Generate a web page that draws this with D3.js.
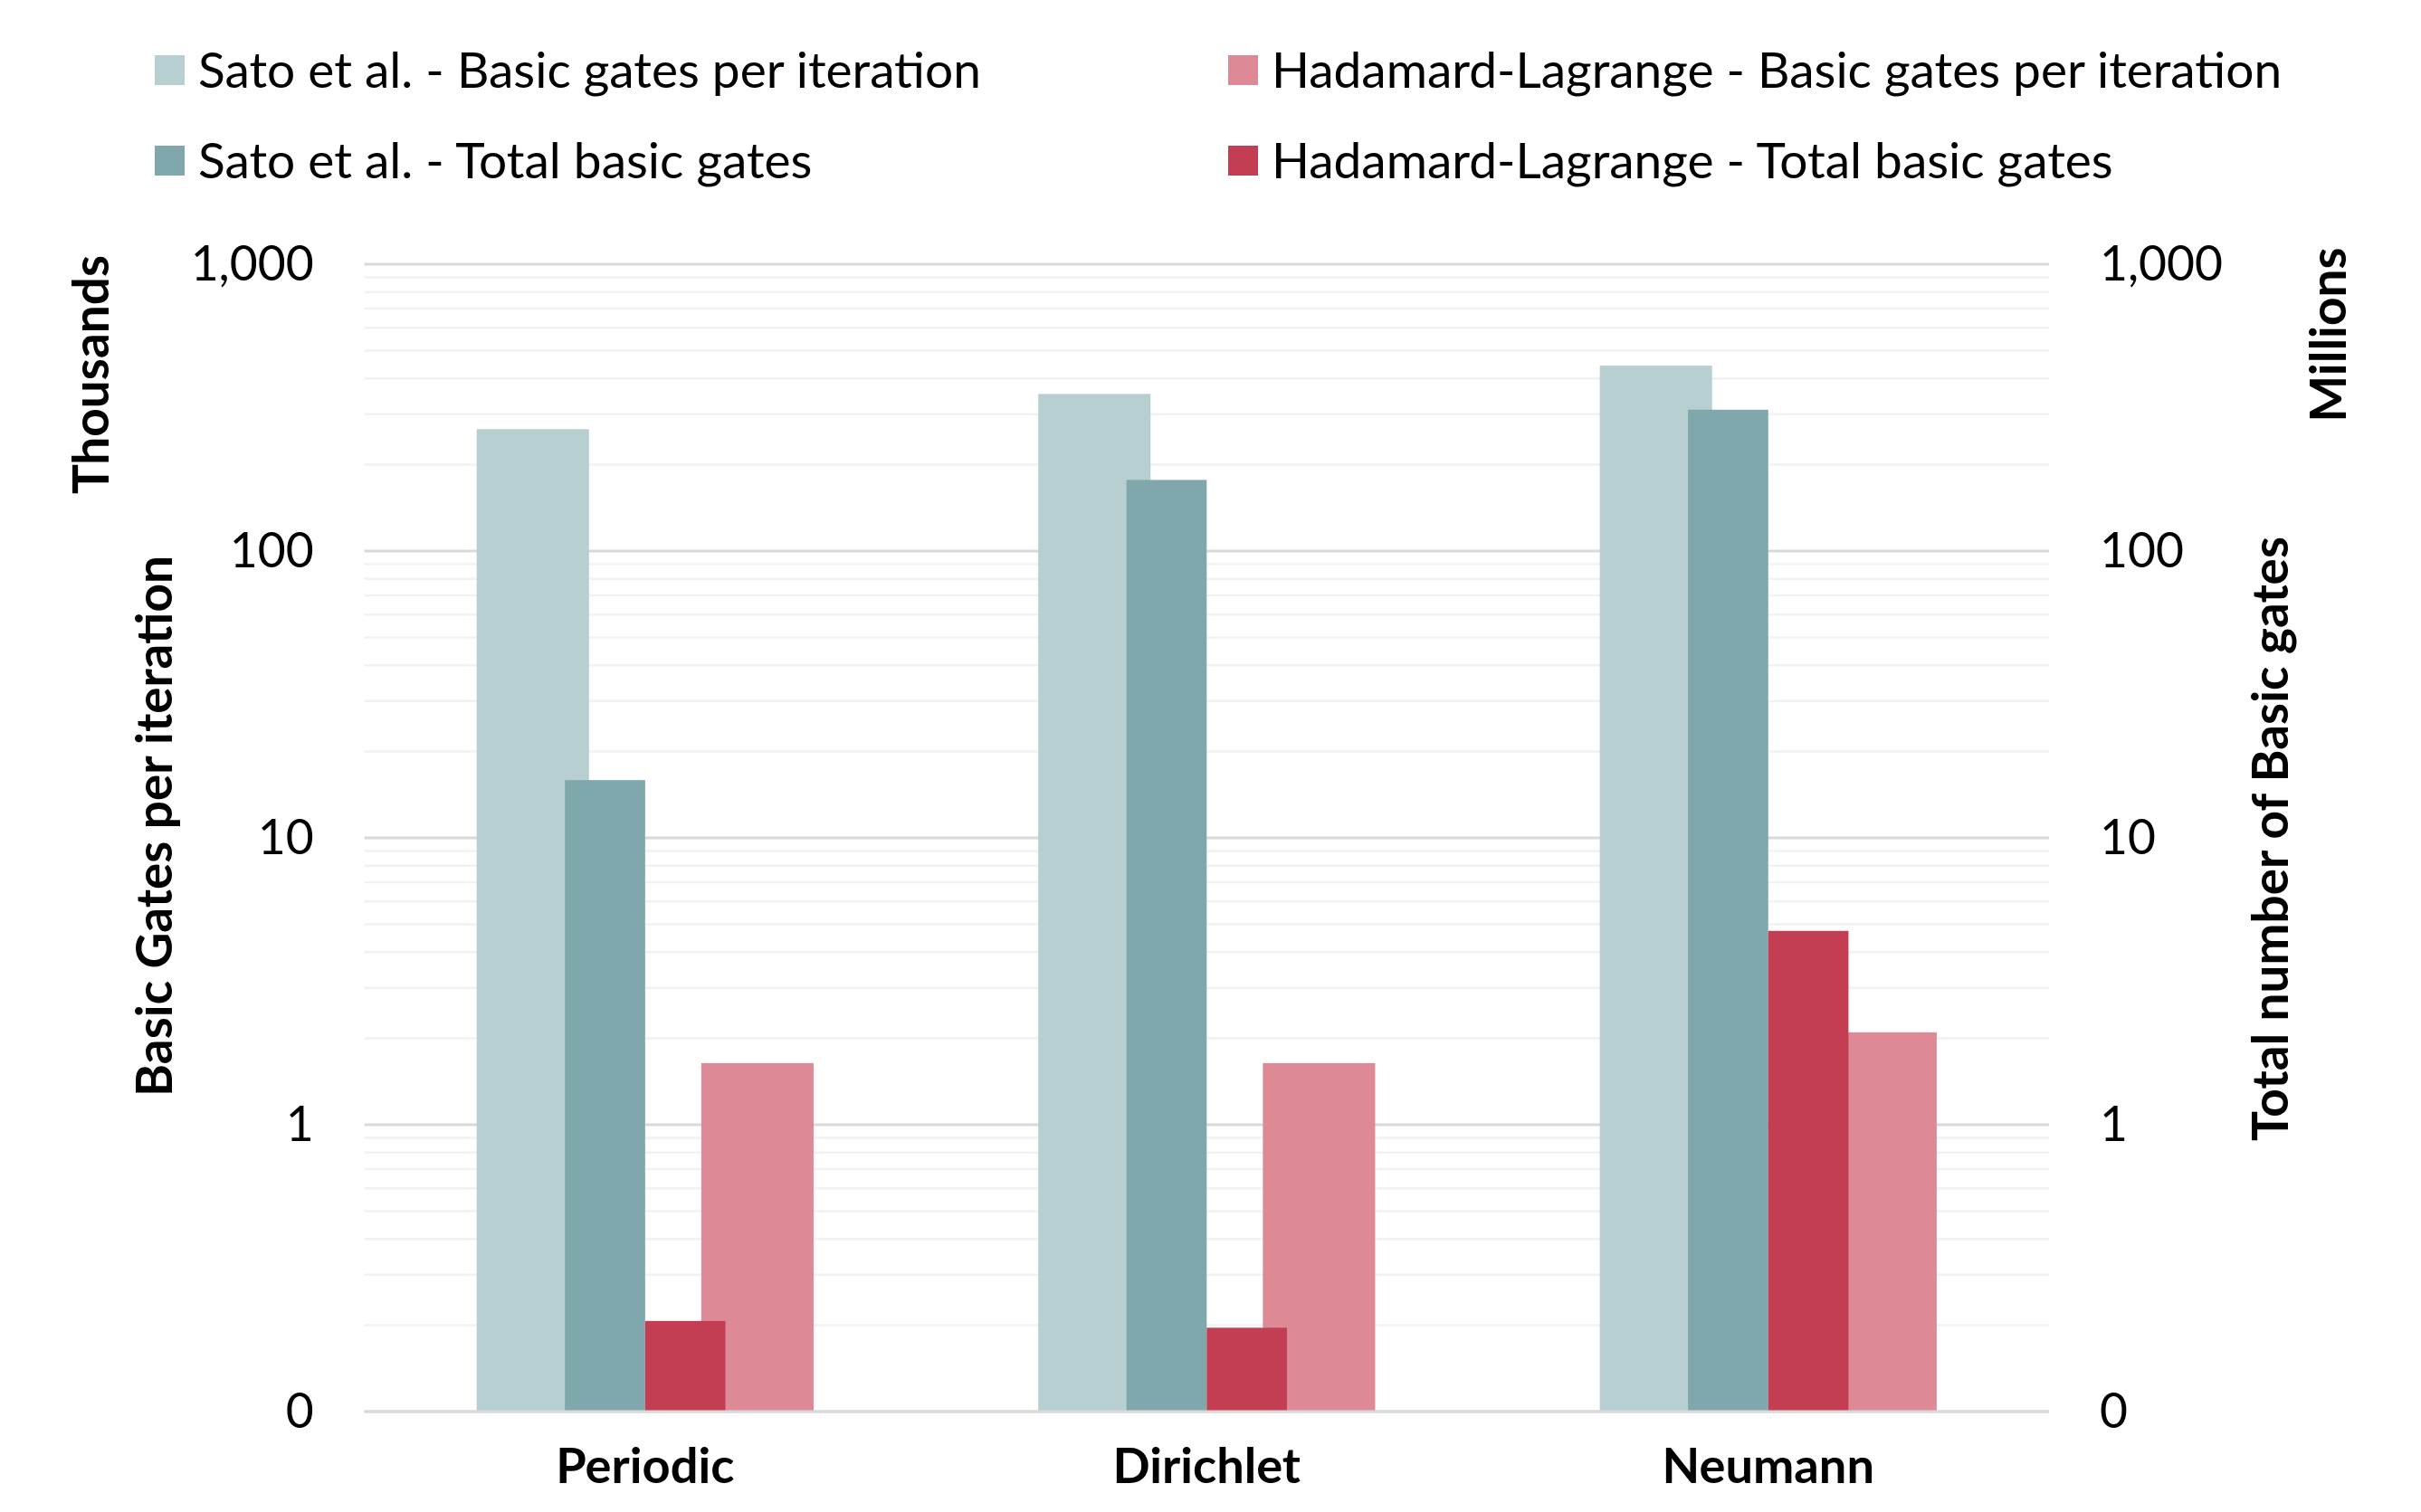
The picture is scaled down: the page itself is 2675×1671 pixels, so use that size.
<!DOCTYPE html>
<html>
<head>
<meta charset="utf-8">
<script src="https://cdn.jsdelivr.net/npm/d3@7"></script>
<style>
  html, body { margin: 0; padding: 0; background: #ffffff; }
  svg { display: block; }
  text { font-family: Lato, "Open Sans", sans-serif; fill: #000; }
</style>
</head>
<body>
<svg id="chart" width="2675" height="1671"></svg>
<script>
// ---------------- data ----------------
const categories = ["Periodic", "Dirichlet", "Neumann"];
// thousands (left axis)
const satoPerIteration = [266, 353, 443];
const hlPerIteration = [1.64, 1.64, 2.1];
// millions (right axis)
const satoTotal = [15.9, 177, 311];
const hlTotal = [0.207, 0.196, 4.74];

const tickValues = [0.1, 1, 10, 100, 1000];
const tickLabels = ["0", "1", "10", "100", "1,000"];

const seriesNames = [
  "Sato et al. - Basic gates per iteration",
  "Sato et al. - Total basic gates",
  "Hadamard-Lagrange - Basic gates per iteration",
  "Hadamard-Lagrange - Total basic gates"
];
const colors = {
  satoPer: "#B7CFD1",
  satoTot: "#7FA7AC",
  hlPer: "#DE8A96",
  hlTot: "#C33E52"
};

// ---------------- layout ----------------
const svg = d3.select("#chart");
const plot = { left: 402.6, right: 2264, top: 292, bottom: 1560 };

const x = d3.scaleBand().domain(categories).range([plot.left, plot.right]).paddingInner(0).paddingOuter(0);
const yL = d3.scaleLog().domain([0.1, 1000]).range([plot.bottom, plot.top]);
const yR = d3.scaleLog().domain([0.1, 1000]).range([plot.bottom, plot.top]);

// primary (per iteration) sub band: gap 100%, spaced
const xPrim = d3.scaleBand().domain(["satoPer", "hlPer"]).range([0, x.bandwidth()]).paddingInner(0.5).paddingOuter(0.5);
// secondary (totals): adjacent bars centred
const xSec = d3.scaleBand().domain(["satoTot", "hlTot"]).range([0, x.bandwidth()]).paddingInner(0).paddingOuter(2.5);

function fitWidth(sel, w) {
  const len = sel.node().getComputedTextLength();
  const fs = parseFloat(sel.attr("font-size"));
  const nfs = fs * w / len;
  sel.attr("font-size", nfs);
  return nfs;
}

// ---------------- gridlines ----------------
const minorVals = [];
for (let e = -1; e < 3; e++) {
  for (let m = 2; m <= 9; m++) minorVals.push(m * Math.pow(10, e));
}
const grid = svg.append("g");
grid.selectAll("line.minor").data(minorVals).join("line")
  .attr("class", "minor")
  .attr("x1", plot.left).attr("x2", plot.right)
  .attr("y1", d => yL(d)).attr("y2", d => yL(d))
  .attr("stroke", "#F2F2F2").attr("stroke-width", 2.5);
grid.selectAll("line.major").data(tickValues).join("line")
  .attr("class", "major")
  .attr("x1", plot.left).attr("x2", plot.right)
  .attr("y1", d => yL(d)).attr("y2", d => yL(d))
  .attr("stroke", "#D9D9D9").attr("stroke-width", 3);

// ---------------- bars ----------------
const prim = [
  { key: "satoPer", values: satoPerIteration },
  { key: "hlPer", values: hlPerIteration }
];
const sec = [
  { key: "satoTot", values: satoTotal },
  { key: "hlTot", values: hlTotal }
];

prim.forEach(s => {
  svg.append("g").selectAll("rect").data(s.values).join("rect")
    .attr("x", (d, i) => x(categories[i]) + xPrim(s.key))
    .attr("width", xPrim.bandwidth())
    .attr("y", d => yL(d))
    .attr("height", d => yL(0.1) - yL(d))
    .attr("fill", colors[s.key]);
});
sec.forEach(s => {
  svg.append("g").selectAll("rect").data(s.values).join("rect")
    .attr("x", (d, i) => x(categories[i]) + xSec(s.key))
    .attr("width", xSec.bandwidth())
    .attr("y", d => yR(d))
    .attr("height", d => yR(0.1) - yR(d))
    .attr("fill", colors[s.key]);
});

// bottom axis line redraw on top
svg.append("line")
  .attr("x1", plot.left).attr("x2", plot.right)
  .attr("y1", yL(0.1)).attr("y2", yL(0.1))
  .attr("stroke", "#D9D9D9").attr("stroke-width", 3);

// ---------------- axes ----------------
const tickFont = 53;
const axL = svg.append("g").attr("transform", `translate(${plot.left},0)`)
  .call(d3.axisLeft(yL).tickValues(tickValues).tickFormat((d, i) => tickLabels[i]).tickSize(0).tickPadding(56));
const axR = svg.append("g").attr("transform", `translate(${plot.right},0)`)
  .call(d3.axisRight(yR).tickValues(tickValues).tickFormat((d, i) => tickLabels[i]).tickSize(0).tickPadding(56));
[axL, axR].forEach(a => {
  a.select(".domain").remove();
  a.selectAll("text").attr("font-family", "Lato, sans-serif").attr("font-size", tickFont).attr("fill", "#000");
});
// fit tick font to "1,000" width
{
  const t = axL.selectAll("text").filter((d) => d === 1000);
  const fs = fitWidth(t, 136);
  axL.selectAll("text").attr("font-size", fs);
  axR.selectAll("text").attr("font-size", fs);
}

// category labels
const catG = svg.append("g");
const catTexts = catG.selectAll("text").data(categories).join("text")
  .attr("x", d => x(d) + x.bandwidth() / 2)
  .attr("y", 1639)
  .attr("text-anchor", "middle")
  .attr("font-weight", "bold")
  .attr("font-size", 56)
  .text(d => d);
{
  const fs = fitWidth(catTexts.filter(d => d === "Periodic"), 197);
  catTexts.attr("font-size", fs);
}

// axis titles (rotated)
function vTitle(txt, cx, cy, targetLen) {
  const t = svg.append("text")
    .attr("transform", `translate(${cx},${cy}) rotate(-90)`)
    .attr("text-anchor", "middle")
    .attr("font-weight", "bold")
    .attr("font-size", 56)
    .text(txt);
  return t;
}
const tBasic = vTitle("Basic Gates per iteration", 190, 913);
const titleFs = fitWidth(tBasic, 598);
const tThousands = vTitle("Thousands", 120, 414).attr("font-size", titleFs);
const tTotal = vTitle("Total number of Basic gates", 2528, 927).attr("font-size", titleFs);
const tMillions = vTitle("Millions", 2592, 370).attr("font-size", titleFs);

// ---------------- legend ----------------
const legendItems = [
  { name: seriesNames[0], color: colors.satoPer, x: 171, y: 61 },
  { name: seriesNames[1], color: colors.satoTot, x: 171, y: 161 },
  { name: seriesNames[2], color: colors.hlPer, x: 1357, y: 61 },
  { name: seriesNames[3], color: colors.hlTot, x: 1357, y: 161 }
];
const lg = svg.append("g");
const items = lg.selectAll("g").data(legendItems).join("g")
  .attr("transform", d => `translate(${d.x},${d.y})`);
items.append("rect").attr("width", 33).attr("height", 33).attr("fill", d => d.color);
const legTexts = items.append("text")
  .attr("x", 48)
  .attr("font-size", 50)
  .text(d => d.name);
{
  const fs = fitWidth(legTexts.filter(d => d.name === seriesNames[0]), 865);
  legTexts.attr("font-size", fs).attr("y", 16.5 + fs * 0.36);
}
</script>
</body>
</html>
